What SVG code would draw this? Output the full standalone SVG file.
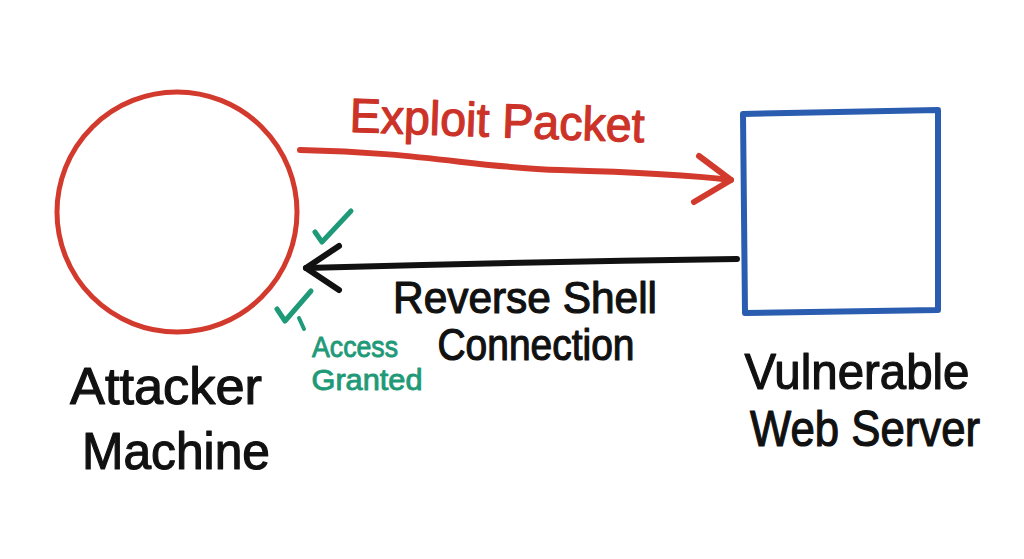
<svg xmlns="http://www.w3.org/2000/svg" width="1024" height="559" viewBox="0 0 1024 559">
<style>
.t{font-family:"Liberation Sans",Arial,sans-serif;text-anchor:middle;stroke-width:1.2;stroke-linejoin:round}
.blk{fill:#111;stroke:#111}
.red{fill:#cc3328;stroke:#cc3328}
.teal{fill:#1f9a78;stroke:#1f9a78;stroke-width:0.9}
.ln{fill:none;stroke-linecap:round;stroke-linejoin:round}
</style>
<rect width="1024" height="559" fill="#fff"/>
<g id="attacker">
<circle cx="177" cy="212" r="120" class="ln" stroke="#d33a2e" stroke-width="5"/>
<text class="t blk" x="166" y="404" font-size="52" textLength="192" lengthAdjust="spacingAndGlyphs">Attacker</text>
<text class="t blk" x="176" y="469" font-size="52" textLength="188" lengthAdjust="spacingAndGlyphs">Machine</text>
</g>
<g id="server">
<path d="M743 114 L938 110 L938 310 L745 313 Z" class="ln" stroke="#2a5cb0" stroke-width="6"/>
<text class="t blk" x="857" y="389" font-size="50" textLength="225" lengthAdjust="spacingAndGlyphs">Vulnerable</text>
<text class="t blk" x="865" y="446" font-size="50" textLength="230" lengthAdjust="spacingAndGlyphs">Web Server</text>
</g>
<g id="connectors">
<path d="M300 150 C420 152 480 168 560 170 C630 172 690 175 731 180" class="ln" stroke="#d33a2e" stroke-width="6"/>
<path d="M699 156 L731 180 L694 202" class="ln" stroke="#d33a2e" stroke-width="6"/>
<text class="t red" x="497" y="137" font-size="48" textLength="295" lengthAdjust="spacingAndGlyphs" transform="rotate(2 497 125)">Exploit Packet</text>
<path d="M737 259 Q520 262 306 268" class="ln" stroke="#111" stroke-width="6"/>
<path d="M339 246 L306 268 L339 290" class="ln" stroke="#111" stroke-width="6"/>
<text class="t blk" x="525" y="313" font-size="44" textLength="264" lengthAdjust="spacingAndGlyphs">Reverse Shell</text>
<text class="t blk" x="536" y="360" font-size="44" textLength="197" lengthAdjust="spacingAndGlyphs">Connection</text>
</g>
<g id="access">
<path d="M315 232 L322 242 L351 211" class="ln" stroke="#1f9a78" stroke-width="5"/>
<path d="M277 309 L285 321 L311 291" class="ln" stroke="#1f9a78" stroke-width="5"/>
<path d="M299 318 L304 329" class="ln" stroke="#1f9a78" stroke-width="4"/>
<text class="t teal" x="355" y="357" font-size="29" textLength="86" lengthAdjust="spacingAndGlyphs">Access</text>
<text class="t teal" x="367" y="390" font-size="29" textLength="111" lengthAdjust="spacingAndGlyphs">Granted</text>
</g>
</svg>
